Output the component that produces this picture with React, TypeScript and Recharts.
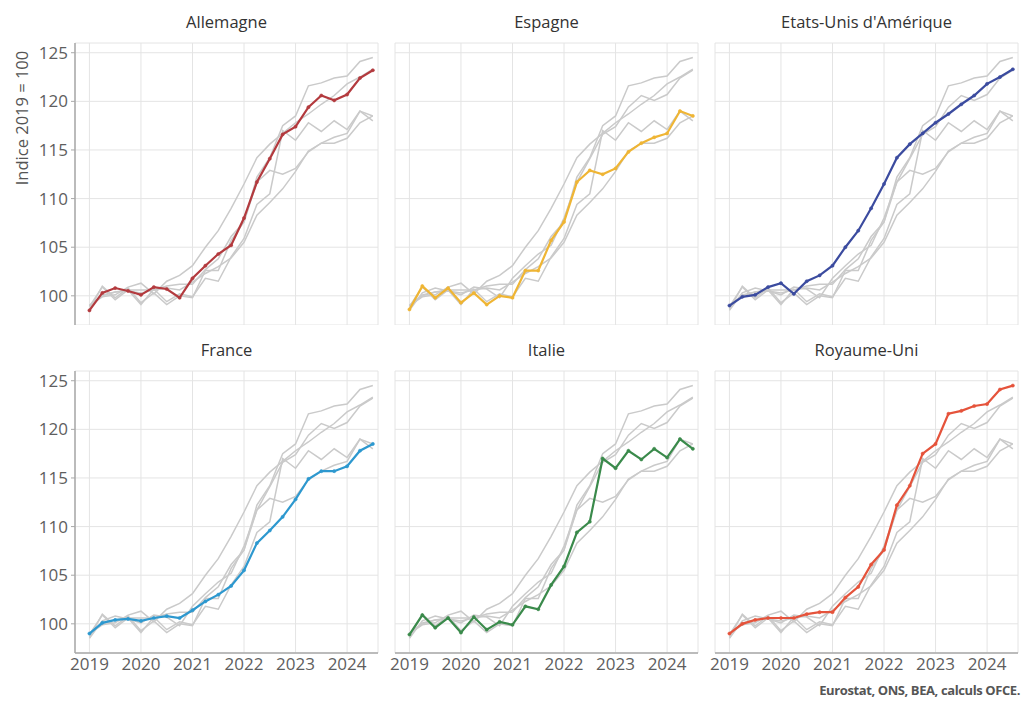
import { LineChart, Line, XAxis, YAxis, CartesianGrid } from "recharts";

// quarterly periods, 2019T1 .. 2024T3
const periods = [
  2019, 2019.25, 2019.5, 2019.75, 2020, 2020.25, 2020.5, 2020.75, 2021, 2021.25, 2021.5, 2021.75,
  2022, 2022.25, 2022.5, 2022.75, 2023, 2023.25, 2023.5, 2023.75, 2024, 2024.25, 2024.5,
];
const yearTicks = [2019, 2020, 2021, 2022, 2023, 2024];
const valueTicks = [100, 105, 110, 115, 120, 125];

const allemagne = [98.5, 100.3, 100.8, 100.5, 100.1, 100.9, 100.7, 99.8, 101.8, 103.1, 104.3, 105.2, 108.0, 111.7, 114.1, 116.6, 117.4, 119.4, 120.6, 120.1, 120.7, 122.4, 123.2];
const espagne = [98.6, 101.0, 99.8, 100.8, 99.3, 100.3, 99.1, 100.0, 99.8, 102.6, 102.6, 105.7, 107.6, 111.7, 112.9, 112.5, 113.1, 114.8, 115.7, 116.3, 116.7, 119.0, 118.5];
const etatsUnis = [99.0, 99.9, 100.1, 100.9, 101.3, 100.2, 101.5, 102.1, 103.1, 105.0, 106.7, 109.0, 111.5, 114.2, 115.6, 116.7, 117.8, 118.7, 119.7, 120.6, 121.8, 122.5, 123.3];
const france = [99.0, 100.1, 100.4, 100.5, 100.3, 100.6, 100.8, 100.6, 101.4, 102.3, 103.0, 103.9, 105.5, 108.3, 109.6, 111.0, 112.8, 114.9, 115.7, 115.7, 116.2, 117.8, 118.5];
const italie = [98.9, 100.9, 99.6, 100.6, 99.1, 100.7, 99.4, 100.2, 99.9, 101.8, 101.5, 104.0, 105.9, 109.4, 110.5, 117.0, 116.0, 117.8, 116.9, 118.0, 117.1, 119.0, 118.0];
const royaumeUni = [99.0, 100.0, 100.4, 100.6, 100.6, 100.6, 101.0, 101.2, 101.2, 102.7, 103.8, 106.1, 107.6, 112.2, 114.2, 117.5, 118.5, 121.6, 121.9, 122.4, 122.6, 124.1, 124.5];

const countries = [
  { key: "de", name: "Allemagne", values: allemagne, color: "#b33a3e" },
  { key: "es", name: "Espagne", values: espagne, color: "#efb534" },
  { key: "us", name: "Etats-Unis d'Amérique", values: etatsUnis, color: "#3b4b9f" },
  { key: "fr", name: "France", values: france, color: "#2d98cf" },
  { key: "it", name: "Italie", values: italie, color: "#3a8a4b" },
  { key: "uk", name: "Royaume-Uni", values: royaumeUni, color: "#e5533b" },
];

const data = periods.map((t, i) => {
  const row: Record<string, number> = { t };
  countries.forEach((c) => (row[c.key] = c.values[i]));
  return row;
});

const PLOT_W = 303;
const PLOT_H = 282;
const Y_W = 50;
const X_H = 30;
const PAD = 12; // spare room around each plot so tick texts are not clipped
const colLeft = [75, 395, 715];
const rowTop = [43, 371];
const FONT = "'Open Sans', sans-serif";

function Panel({ idx }: { idx: number }) {
  const row = Math.floor(idx / 3);
  const col = idx % 3;
  const main = countries[idx];
  const showY = col === 0;
  const showX = row === 1;
  const padL = showY ? 0 : 25;
  const width = PLOT_W + (showY ? Y_W : 0) + padL + PAD;
  const height = PLOT_H + (showX ? X_H : 0) + PAD;
  return (
    <>
      <div
        style={{
          position: "absolute",
          left: colLeft[col],
          top: rowTop[row] - 31,
          width: PLOT_W,
          lineHeight: "20px",
          textAlign: "center",
          fontSize: 16.5,
          color: "#333",
        }}
      >
        {main.name}
      </div>
      <div
        style={{
          position: "absolute",
          left: colLeft[col] - (showY ? Y_W : 0) - padL,
          top: rowTop[row] - PAD,
        }}
      >
        <LineChart
          width={width}
          height={height}
          data={data}
          margin={{ top: PAD, right: PAD, bottom: 0, left: padL }}
        >
          <CartesianGrid stroke="#e4e4e4" strokeWidth={1} />
          <XAxis
            dataKey="t"
            type="number"
            domain={[2018.72, 2024.6]}
            ticks={yearTicks}
            interval={0}
            allowDataOverflow
            hide={!showX}
            height={X_H}
            tickLine={false}
            tickSize={0}
            tickMargin={5}
            axisLine={{ stroke: "#a8a8a8", strokeWidth: 1.5 }}
            tick={{ fill: "#5e5e5e", fontSize: 17, fontFamily: FONT }}
          />
          <YAxis
            type="number"
            domain={[97, 126]}
            ticks={valueTicks}
            interval={0}
            allowDataOverflow
            hide={!showY}
            width={Y_W}
            tickSize={4}
            tickMargin={3}
            tickLine={{ stroke: "#a8a8a8" }}
            axisLine={{ stroke: "#a8a8a8", strokeWidth: 1.5 }}
            tick={{ fill: "#5e5e5e", fontSize: 17, fontFamily: FONT }}
          />
          {countries
            .filter((c) => c.key !== main.key)
            .map((c) => (
              <Line
                key={c.key}
                dataKey={c.key}
                stroke="#cacaca"
                strokeWidth={1.5}
                dot={false}
                isAnimationActive={false}
              />
            ))}
          <Line
            dataKey={main.key}
            stroke={main.color}
            strokeWidth={2.2}
            dot={{ r: 1.6, fill: main.color, stroke: main.color, strokeWidth: 0.5 }}
            isAnimationActive={false}
          />
        </LineChart>
      </div>
    </>
  );
}

export default function App() {
  return (
    <div
      style={{
        position: "absolute",
        left: 0,
        top: 0,
        width: 1023,
        height: 702,
        background: "#fff",
        fontFamily: FONT,
        overflow: "hidden",
      }}
    >
      {countries.map((c, i) => (
        <Panel key={c.key} idx={i} />
      ))}
      <div
        style={{
          position: "absolute",
          left: 22 - 90,
          top: 118 - 10,
          width: 180,
          height: 20,
          lineHeight: "20px",
          textAlign: "center",
          fontSize: 16.5,
          color: "#555",
          transform: "rotate(-90deg)",
        }}
      >
        Indice 2019 = 100
      </div>
      <div
        style={{
          position: "absolute",
          right: 3,
          top: 680,
          lineHeight: "20px",
          fontSize: 13,
          fontWeight: 700,
          letterSpacing: -0.4,
          color: "#555",
        }}
      >
        Eurostat, ONS, BEA, calculs OFCE.
      </div>
    </div>
  );
}
